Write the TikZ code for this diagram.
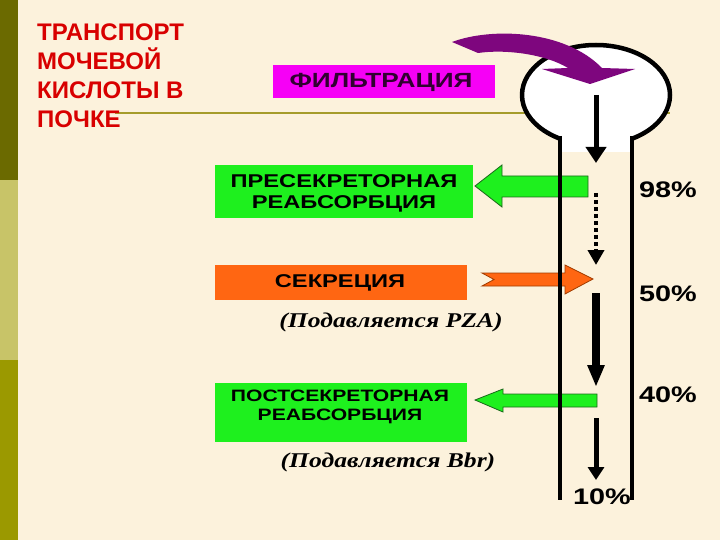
\documentclass[tikz,border=0pt]{standalone}
\usepackage{fontspec}
\setmainfont{Liberation Sans}
\newfontfamily\widefont{Liberation Sans}[FakeStretch=1.28]
\newfontfamily\noteface{Liberation Serif}[FakeStretch=1.22]
\usetikzlibrary{arrows.meta}
\definecolor{cream}{HTML}{FCF2DC}
\definecolor{bandtop}{HTML}{6B6A00}
\definecolor{bandmid}{HTML}{C8C468}
\definecolor{bandlow}{HTML}{9B9900}
\definecolor{ruleolive}{HTML}{A59C2B}
\definecolor{titlered}{HTML}{D80000}
\definecolor{magbox}{HTML}{F600F6}
\definecolor{grnbox}{HTML}{1EF01E}
\definecolor{orgbox}{HTML}{FF6612}
\definecolor{purparrow}{HTML}{7E067E}
\definecolor{darkgrn}{HTML}{1A6A1A}
\definecolor{darkorg}{HTML}{A03C00}
\tikzset{
  box/.style={inner sep=0pt, anchor=north west},
  boxtext/.style={font=\widefont\bfseries\fontsize{18.5}{21}\selectfont, align=center, inner sep=0pt},
  pct/.style={font=\widefont\bfseries\fontsize{22.5}{26}\selectfont, inner sep=0pt},
  note/.style={font=\noteface\bfseries\itshape\fontsize{21}{24}\selectfont, inner sep=0pt},
  tube/.style={line width=4pt},
  flow/.style={line width=5pt}
}
\begin{document}
\begin{tikzpicture}[x=1pt,y=-1pt]
\fill[cream] (0,0) rectangle (720,540);
\useasboundingbox (0,0) rectangle (720,540);
\fill[bandtop] (0,0) rectangle (18,180);
\fill[bandmid] (0,180) rectangle (18,360);
\fill[bandlow] (0,360) rectangle (18,540);
\draw[ruleolive, line width=2pt] (115,113) -- (670,113);

\node[font=\bfseries\fontsize{24}{29}\selectfont, text=titlered, align=left, inner sep=0pt, anchor=north west] (title) at (37,24)
  {ТРАНСПОРТ\\МОЧЕВОЙ\\КИСЛОТЫ В\\ПОЧКЕ};

\filldraw[fill=white, line width=4.5pt] (596,95) ellipse [x radius=74, y radius=50];
\fill[white] (562,134) rectangle (630,152);

\node[box, fill=magbox, minimum width=222pt, minimum height=33pt] (filt) at (273,65) {};
\node[box, fill=grnbox, minimum width=258pt, minimum height=53pt] (presec) at (215,165) {};
\node[box, fill=orgbox, minimum width=252pt, minimum height=35pt] (secr) at (215,265) {};
\node[box, fill=grnbox, minimum width=252pt, minimum height=59pt] (postsec) at (215,383) {};

\node[boxtext, font=\widefont\bfseries\fontsize{20.5}{24}\selectfont, text={black!80!magbox}] (filt-t) at (381,82) {ФИЛЬТРАЦИЯ};
\node[boxtext] (presec-t) at (344,193.5) {ПРЕСЕКРЕТОРНАЯ\\РЕАБСОРБЦИЯ};
\node[boxtext] (secr-t) at (340,283) {СЕКРЕЦИЯ};
\node[boxtext, font=\widefont\bfseries\fontsize{16.5}{19}\selectfont] (postsec-t) at (340,407) {ПОСТСЕКРЕТОРНАЯ\\РЕАБСОРБЦИЯ};

\node[note] (pza) at (391,322) {(Подавляется PZA)};
\node[note] (bbr) at (388,462) {(Подавляется Bbr)};

\filldraw[fill=grnbox, draw=darkgrn, line width=0.8pt]
  (475,186) -- (502,165) -- (502,176) -- (588,176) -- (588,197) -- (502,197) -- (502,207) -- cycle;
\filldraw[fill=orgbox, draw=darkorg, line width=0.8pt]
  (482,273) -- (565,273) -- (565,265) -- (593,279) -- (565,294) -- (565,286) -- (482,286) -- (494,279.5) -- cycle;
\filldraw[fill=grnbox, draw=darkgrn, line width=0.8pt]
  (475,400) -- (503,389) -- (503,394) -- (597,394) -- (597,407) -- (503,407) -- (503,412) -- cycle;

\draw[tube] (560,136) -- (560,500);
\draw[tube] (632,136) -- (632,500);

\coordinate (in) at (596,95);
\coordinate (f1) at (596,163);
\coordinate (r0) at (596,193);
\coordinate (r1) at (596,265);
\coordinate (s0) at (596,293);
\coordinate (s1) at (596,387);
\coordinate (u0) at (596,418);
\coordinate (u1) at (596,480);
\draw[flow, -{Triangle[width=20pt,length=16pt]}] (in) -- (f1);
\draw[line width=4pt, dash pattern=on 4pt off 3pt, -{Triangle[width=16pt,length=15pt]}] (r0) -- (r1);
\draw[line width=8pt, -{Triangle[width=16pt,length=22pt]}] (s0) -- (s1);
\draw[flow, -{Triangle[width=16pt,length=13pt]}] (u0) -- (u1);

\fill[purparrow] (452,42) .. controls (492,27) and (565,30) .. (602,68) -- (635,69) -- (590,84) -- (542,69)
  -- (568,68) .. controls (545,54) and (505,49) .. (478,53) -- cycle;

\node[pct] (p98) at (668,190) {98\%};
\node[pct] (p50) at (668,294) {50\%};
\node[pct] (p40) at (668,395) {40\%};
\node[pct] (p10) at (602,497) {10\%};
\end{tikzpicture}
\end{document}
